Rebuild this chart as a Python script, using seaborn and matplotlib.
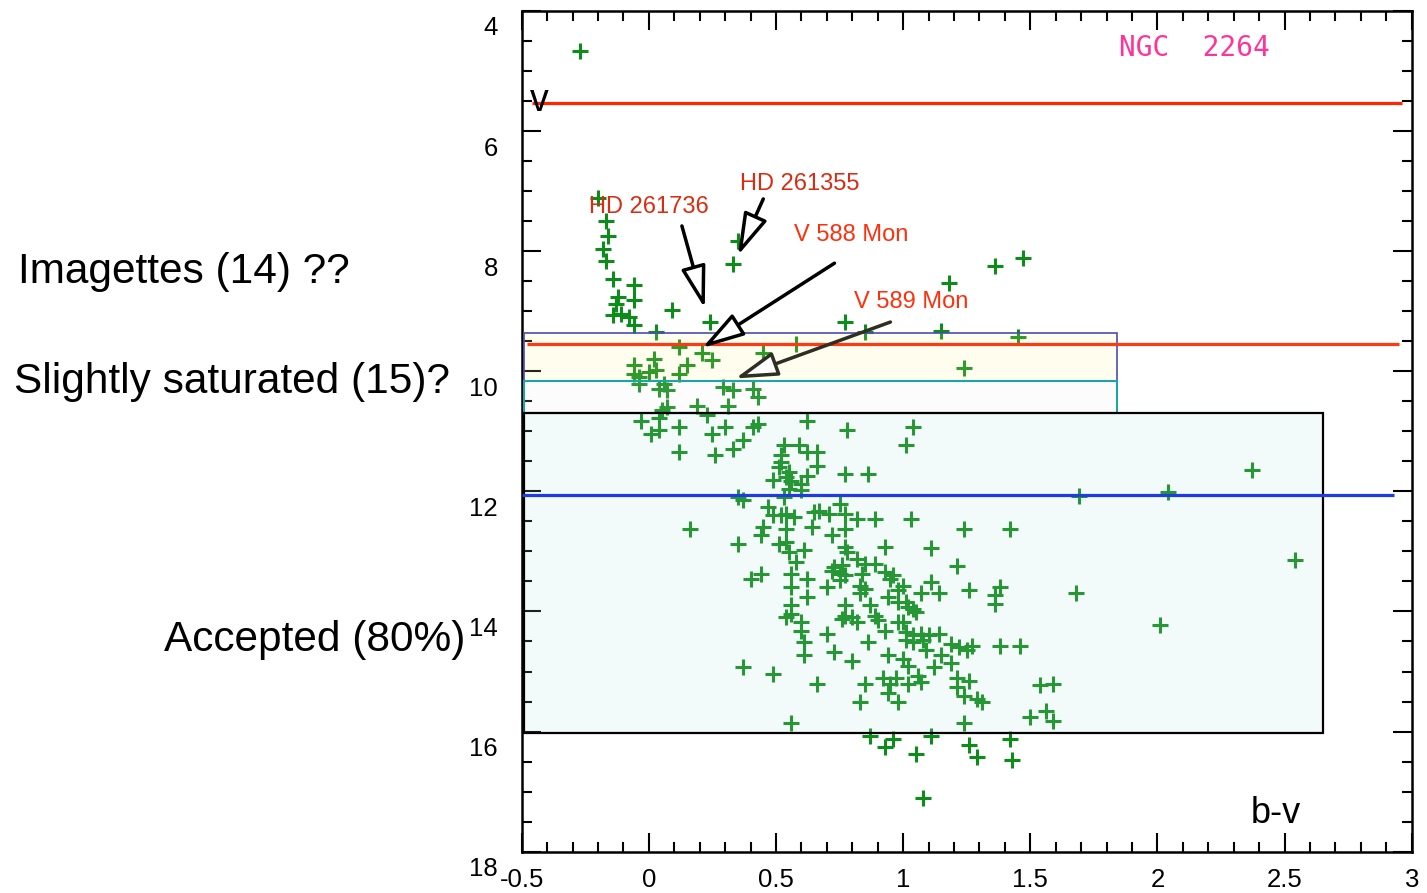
import matplotlib
matplotlib.use("Agg")
import matplotlib.pyplot as plt
import seaborn as sns
import pandas as pd
from matplotlib.patches import Rectangle
from matplotlib.ticker import MultipleLocator
from matplotlib.transforms import ScaledTranslation

# ---------------- data ----------------
bv = [
    -0.27, -0.20, -0.17, -0.16, -0.18, -0.17, -0.14, -0.06, -0.12, -0.06, -0.13, -0.14, -0.11, -0.08, -0.06,
    0.09, 0.24, 0.33, 0.35, 1.18, 1.36, 1.47, 0.77,
    0.03, 0.85, 1.15, 1.45, 0.12, 0.21, 0.25, 0.15, 0.12, 0.45, 0.58, 1.24, -0.06, 0.02, -0.06, -0.04,
    0.00, 0.03, -0.04, 0.04, 0.06, 0.07, 0.07, 0.05, 0.19, 0.23, 0.29, 0.33, 0.31, 0.41, 0.43,
    -0.03, 0.04, 0.01, 0.04, 0.12, 0.12, 0.25, 0.26, 0.30, 0.33, 0.37, 0.41, 0.43, 0.62, 0.78, 1.04, 1.01,
    0.16, 0.35,
    0.53, 0.59, 0.62, 0.66, 0.52, 0.52, 0.66, 0.51, 0.55, 0.49, 0.54, 0.56, 0.62, 0.60, 0.55, 0.60, 0.77,
    0.86, 0.53, 0.37, 0.35, 0.47, 0.49, 0.52, 0.54, 0.57, 0.65, 0.67, 0.71, 0.75, 0.77, 0.82, 0.89, 1.03,
    0.45, 0.44, 0.54, 0.64, 0.72, 0.77, 0.51, 0.54, 0.55, 0.61, 0.77, 0.78, 0.93, 0.82, 0.85, 0.89, 0.73,
    0.76, 0.58,
    0.40, 0.44, 0.37, 0.49, 0.56, 0.66, 0.56, 0.62, 0.56, 0.62, 0.56, 0.54, 0.56, 0.60, 0.60, 0.61, 0.61,
    0.70, 0.73, 0.80, 0.70, 0.72, 0.75, 0.77, 0.75, 0.84, 0.83, 0.85, 0.83, 0.77, 0.77, 0.76, 0.80, 0.82,
    0.87, 0.89, 0.90, 0.93, 0.96, 0.95, 1.00, 0.98, 0.94, 0.98, 1.01, 1.04, 1.05, 0.98, 1.00, 0.93, 1.01,
    1.04, 1.01, 1.04, 0.86, 0.94, 1.00, 1.02, 0.92, 0.97, 0.95, 0.94, 1.02, 1.06, 0.85, 0.83, 0.98, 0.87,
    0.96, 0.93,
    1.24, 1.42, 1.11, 1.21, 1.07, 1.11, 1.14, 1.26, 1.38, 1.36, 1.36, 1.02, 1.07, 1.10, 1.14, 1.09, 1.19,
    1.22, 1.25, 1.27, 1.15, 1.19, 1.38, 1.46, 1.12, 1.07, 1.08, 1.21, 1.26, 1.21, 1.24, 1.29, 1.31, 1.24,
    1.54, 1.59, 1.50, 1.56, 1.59, 1.11, 1.42, 1.26,
    1.05, 1.08, 1.29, 1.43,
    1.69, 2.04, 2.37, 2.54, 1.68, 2.01,
]
vmag = [
    4.67, 7.11, 7.50, 7.75, 7.96, 8.16, 8.47, 8.57, 8.76, 8.82, 8.88, 9.07, 9.04, 9.10, 9.23,
    8.98, 9.18, 8.21, 7.83, 8.53, 8.25, 8.11, 9.18,
    9.35, 9.35, 9.33, 9.43, 9.60, 9.69, 9.82, 9.89, 10.04, 9.69, 9.54, 9.94, 9.89, 9.79, 10.04, 10.10,
    10.01, 9.98, 10.21, 10.29, 10.21, 10.31, 10.60, 10.64, 10.58, 10.72, 10.26, 10.32, 10.58, 10.29, 10.43,
    10.82, 10.78, 11.04, 10.98, 10.93, 11.35, 11.04, 11.40, 10.93, 11.29, 11.14, 10.93, 10.87, 10.83, 10.98,
    10.93, 11.23, 12.62, 12.87,
    11.23, 11.23, 11.35, 11.35, 11.40, 11.51, 11.57, 11.60, 11.68, 11.81, 11.76, 11.82, 11.75, 11.87, 11.96,
    11.97, 11.71, 11.71, 12.10, 12.15, 12.10, 12.26, 12.40, 12.40, 12.37, 12.43, 12.35, 12.32, 12.37, 12.21,
    12.37, 12.46, 12.46, 12.46, 12.60, 12.73, 12.62, 12.60, 12.73, 12.62, 12.87, 12.85, 13.01, 12.98, 12.93,
    13.01, 12.93, 13.12, 13.21, 13.21, 13.26, 13.23, 13.18,
    13.46, 13.37, 14.93, 15.04, 15.86, 15.20, 13.37, 13.46, 13.60, 13.76, 13.90, 14.10, 14.04, 14.18, 14.32,
    14.51, 14.73, 14.37, 14.68, 14.82, 13.60, 13.32, 13.37, 13.40, 13.48, 13.37, 13.57, 13.62, 13.70, 13.90,
    14.07, 14.12, 14.10, 14.18, 13.90, 14.07, 14.15, 13.35, 13.40, 13.46, 13.57, 13.65, 13.76, 13.85, 13.85,
    13.96, 14.01, 14.18, 14.18, 14.32, 14.35, 14.40, 14.48, 14.51, 14.51, 14.73, 14.79, 14.90, 15.10, 15.10,
    15.21, 15.35, 15.21, 15.07, 15.21, 15.51, 15.51, 16.07, 16.12, 16.26,
    12.62, 12.62, 12.94, 13.25, 13.70, 13.51, 13.70, 13.65, 13.60, 13.73, 13.87, 13.93, 14.37, 14.40, 14.37,
    14.65, 14.54, 14.60, 14.65, 14.57, 14.73, 14.85, 14.57, 14.57, 14.93, 15.17, 14.48, 15.10, 15.15, 15.26,
    15.40, 15.46, 15.51, 15.86, 15.23, 15.20, 15.76, 15.65, 15.82, 16.07, 16.12, 16.23,
    16.38, 17.10, 16.43, 16.48,
    12.07, 12.01, 11.65, 13.14, 13.70, 14.22,
]

# horizontal reference lines (V magnitude)
hline_v = [5.53, 9.54, 12.06]
hline_x0 = [-0.46, -0.48, -0.50]
hline_x1 = [2.96, 2.95, 2.93]

# selection boxes
box_left = [-0.49, -0.49, -0.49]
box_right = [1.84, 1.84, 2.65]
box_top = [9.36, 10.16, 10.70]
box_bottom = [10.16, 10.70, 16.02]

# labelled stars (arrow tip = star position)
star_names = ["HD 261355", "HD 261736", "V 588 Mon", "V 589 Mon"]
star_bv = [0.35, 0.22, 0.21, 0.34]
star_v = [8.07, 8.95, 9.61, 10.12]

xtick_vals = [-0.5, 0, 0.5, 1, 1.5, 2, 2.5, 3]
xtick_labels = ["-0.5", "0", "0.5", "1", "1.5", "2", "2.5", "3"]
ytick_vals = [4, 6, 8, 10, 12, 14, 16, 18]
ytick_labels = ["4", "6", "8", "10", "12", "14", "16", "18"]

# ---------------- styling / layout ----------------
sns.set_style("white")
plt.rcParams["font.family"] = ["Liberation Sans", "DejaVu Sans"]
plt.rcParams["text.color"] = "black"
plt.rcParams["xtick.color"] = "black"
plt.rcParams["ytick.color"] = "black"
plt.rcParams["xtick.labelcolor"] = "black"
plt.rcParams["ytick.labelcolor"] = "black"

fig = plt.figure(figsize=(14.27, 8.93), dpi=100)
ax = fig.add_axes([0.3656, 0.0463, 0.6237, 0.9414])

df = pd.DataFrame({"bv": bv, "V": vmag})
sns.scatterplot(data=df, x="bv", y="V", marker="+", s=140, color="#0c8c18",
                linewidth=2.2, ax=ax, zorder=3, legend=False)

# boxes (semi-transparent fills drawn above points, opaque edges)
box_face = [(1.0, 0.95, 0.56, 0.15), (0.92, 0.92, 0.92, 0.15), (0.71, 0.87, 0.87, 0.15)]
box_edge = ["#4b4bb0", "#1aa6a6", "black"]
box_lw = [1.2, 1.5, 1.6]
for i in range(len(box_left)):
    ax.add_patch(Rectangle((box_left[i], box_top[i]), box_right[i] - box_left[i],
                           box_bottom[i] - box_top[i], facecolor=box_face[i],
                           edgecolor="none", zorder=4))
for i in [0, 1, 2]:
    ax.add_patch(Rectangle((box_left[i], box_top[i]), box_right[i] - box_left[i],
                           box_bottom[i] - box_top[i], facecolor="none",
                           edgecolor=box_edge[i], lw=box_lw[i], zorder=5))

line_colors = ["#ff2600", "#ff3a12", "#1e3ce2"]
for v, x0, x1, c in zip(hline_v, hline_x0, hline_x1, line_colors):
    ax.plot([x0, x1], [v, v], color=c, lw=2.3, zorder=6, solid_capstyle="butt")

# axes
ax.set_xlim(-0.5, 3)
ax.set_ylim(18, 4)
ax.set_xlabel("")
ax.set_ylabel("")
ax.set_xticks(xtick_vals, xtick_labels)
ax.set_yticks(ytick_vals, ytick_labels)
ax.xaxis.set_minor_locator(MultipleLocator(0.1))
ax.yaxis.set_minor_locator(MultipleLocator(0.5))
ax.tick_params(which="both", direction="in", top=True, right=True, left=True, bottom=True,
               width=1.5, color="black")
ax.tick_params(which="major", length=13.5, labelsize=18.5, labelcolor="black")
ax.tick_params(which="minor", length=7)
ax.tick_params(axis="y", which="major", pad=17)
ax.tick_params(axis="x", which="major", pad=12)
for sp in ax.spines.values():
    sp.set_visible(True)
    sp.set_color("black")
    sp.set_linewidth(1.8)
ax.set_facecolor("white")
off = ScaledTranslation(0, -0.15, fig.dpi_scale_trans)
for lab in ax.get_yticklabels():
    lab.set_transform(lab.get_transform() + off)

# in-axes texts
ax.text(2.146, 4.62, "NGC  2264", color="#ff3399", fontsize=20,
        family=["DejaVu Sans Mono"], ha="center", va="center", zorder=7)
ax.text(-0.43, 5.5, "v", fontsize=27, ha="center", va="center", color="black", zorder=7)
ax.text(2.465, 17.53, "b-v", fontsize=26, ha="center", va="baseline", color="black", zorder=7)

label_pos = [(0.594, 6.88), (0.0, 7.27), (0.797, 7.73), (1.03, 8.85)]
tail_pos = [(0.45, 7.13), (0.13, 7.58), (0.73, 8.20), (0.95, 9.18)]
label_col = ["#d92c10", "#d92c10", "#ff300c", "#ff300c"]
arrow_col = ["black", "black", "black", "#2e2e22"]
for name, sx, sy, lp, tp, lc, ac in zip(star_names, star_bv, star_v, label_pos,
                                        tail_pos, label_col, arrow_col):
    ax.text(lp[0], lp[1], name, color=lc, fontsize=17, ha="center", va="center", zorder=8)
    ax.annotate("", xy=(sx, sy), xytext=tp, zorder=8,
                arrowprops=dict(arrowstyle="-|>,head_length=1.3,head_width=0.38",
                                mutation_scale=20, fc="white", ec=ac, lw=2.5,
                                shrinkA=0, shrinkB=0))

# left-side figure texts
fig.text(18 / 1427, 1 - 272 / 893, "Imagettes (14) ??", fontsize=30.5, ha="left", va="center", color="black")
fig.text(14 / 1427, 1 - 382 / 893, "Slightly saturated (15)?", fontsize=30.5, ha="left", va="center", color="black")
fig.text(465 / 1427, 1 - 640 / 893, "Accepted (80%)", fontsize=30.5, ha="right", va="center", color="black")

fig.savefig("out.png", dpi=100, facecolor="white")
